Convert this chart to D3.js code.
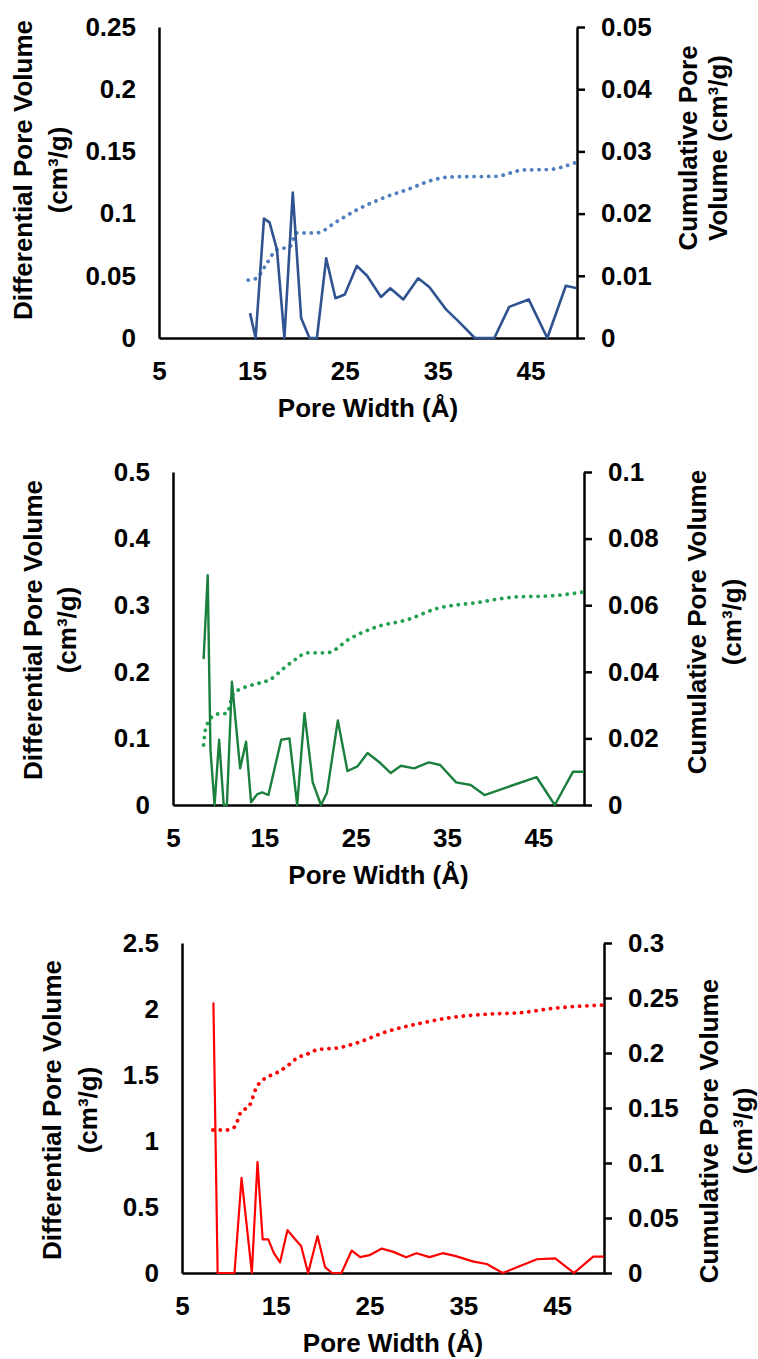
<!DOCTYPE html>
<html>
<head>
<meta charset="utf-8">
<script src="https://cdn.jsdelivr.net/npm/d3@7"></script>
<style>
  body { margin: 0; background: #fff; }
  svg text { font-family: Arial, "Liberation Sans", sans-serif; font-weight: bold; fill: #000; }
</style>
</head>
<body>
<div id="chart"></div>
<script>
/* Data: pore width (Å), differential and cumulative pore volume (cm3/g) */
const diffWidths1 = [14.8, 15.4, 16.3, 16.9, 17.7, 18.5, 19.4, 20.3, 21.2, 22.0, 23.0, 24.0, 25.0, 26.3, 27.4, 28.9, 29.9, 31.3, 32.9, 34.1, 35.9, 37.3, 39.0, 41.1, 42.7, 44.8, 46.8, 48.8, 50.0];
const diffVolume1 = [0.020, 0, 0.096, 0.093, 0.071, 0, 0.117, 0.016, 0, 0, 0.064, 0.032, 0.035, 0.058, 0.050, 0.033, 0.040, 0.031, 0.048, 0.041, 0.023, 0.013, 0, 0, 0.025, 0.031, 0, 0.042, 0.040];
const cumWidths1 = [14.6, 15.5, 16.4, 17.7, 19.1, 19.8, 22.0, 24.1, 26.3, 29.1, 31.6, 34.5, 36.3, 41.3, 44.2, 47.0, 50.0];
const cumVolume1 = [0.0093, 0.0096, 0.0115, 0.0142, 0.0147, 0.0169, 0.0169, 0.0187, 0.0206, 0.0225, 0.0238, 0.0254, 0.0259, 0.0260, 0.0270, 0.0271, 0.0283];

const diffWidths2 = [8.35, 8.8, 9.1, 9.55, 10.05, 10.55, 10.9, 11.45, 12.35, 13.0, 13.55, 14.2, 14.75, 15.45, 16.85, 17.75, 18.6, 19.4, 20.3, 21.2, 21.85, 23.05, 24.1, 25.2, 26.3, 27.7, 28.85, 29.95, 31.4, 33.0, 34.25, 36.0, 37.6, 39.1, 44.8, 46.8, 48.8, 50.0];
const diffVolume2 = [0.219, 0.345, 0.083, 0, 0.098, 0, 0, 0.185, 0.055, 0.095, 0.004, 0.016, 0.019, 0.015, 0.098, 0.100, 0, 0.138, 0.034, 0, 0.018, 0.127, 0.051, 0.058, 0.078, 0.063, 0.048, 0.059, 0.055, 0.064, 0.060, 0.034, 0.030, 0.015, 0.042, 0, 0.050, 0.050];
const cumWidths2 = [8.35, 8.55, 8.9, 9.8, 10.9, 11.6, 12.55, 14.55, 15.65, 17.1, 18.55, 19.65, 21.85, 24.4, 27.3, 30.6, 33.9, 38.3, 42.6, 46.3, 50.0];
const cumVolume2 = [0.018, 0.0227, 0.025, 0.0273, 0.0275, 0.0335, 0.035, 0.0367, 0.0377, 0.041, 0.044, 0.0457, 0.0457, 0.050, 0.0535, 0.0556, 0.059, 0.0608, 0.0625, 0.0628, 0.064];

const diffWidths3 = [8.35, 8.8, 10.6, 11.35, 12.45, 13.05, 13.6, 14.2, 14.8, 15.45, 16.25, 16.95, 17.7, 18.45, 19.45, 20.25, 21.0, 22.0, 23.1, 24.0, 25.0, 26.3, 27.55, 28.9, 30.0, 31.4, 32.8, 34.1, 36.1, 37.5, 39.2, 41.05, 42.85, 44.8, 46.8, 48.85, 50.0];
const diffVolume3 = [2.05, 0, 0, 0.72, 0, 0.84, 0.255, 0.255, 0.15, 0.08, 0.325, 0.265, 0.205, 0, 0.28, 0.045, 0, 0, 0.17, 0.12, 0.135, 0.185, 0.16, 0.12, 0.15, 0.12, 0.15, 0.13, 0.086, 0.068, 0, 0.053, 0.104, 0.111, 0, 0.124, 0.124];
const cumWidths3 = [8.3, 9.8, 10.65, 11.2, 12.25, 12.9, 13.7, 15.1, 16.2, 17.2, 18.65, 19.4, 21.85, 23.6, 26.5, 30.4, 33.9, 37.9, 41.05, 44.6, 50.0];
const cumVolume3 = [0.130, 0.130, 0.133, 0.145, 0.153, 0.168, 0.176, 0.182, 0.188, 0.195, 0.200, 0.203, 0.205, 0.209, 0.2185, 0.227, 0.2325, 0.2355, 0.2366, 0.2406, 0.2436];

/* Ticks and labels */
const xTicks = [5, 15, 25, 35, 45];
const leftTicks1 = [0, 0.05, 0.1, 0.15, 0.2, 0.25];
const rightTicks1 = [0, 0.01, 0.02, 0.03, 0.04, 0.05];
const leftTicks2 = [0, 0.1, 0.2, 0.3, 0.4, 0.5];
const rightTicks2 = [0, 0.02, 0.04, 0.06, 0.08, 0.1];
const leftTicks3 = [0, 0.5, 1, 1.5, 2, 2.5];
const rightTicks3 = [0, 0.05, 0.1, 0.15, 0.2, 0.25, 0.3];

const xTitle = 'Pore Width (Å)';
const leftTitle = ['Differential Pore Volume', '(cm³/g)'];
const rightTitleA = ['Cumulative Pore', 'Volume (cm³/g)'];
const rightTitleB = ['Cumulative Pore Volume', '(cm³/g)'];

/* Panels: layout + style */
let panels = [
  { left: 159, right: 577, top: 27, bottom: 338,
    dx: diffWidths1, dy: diffVolume1, cx: cumWidths1, cy: cumVolume1,
    lt: leftTicks1, rt: rightTicks1, rTitle: rightTitleA,
    solid: '#2f5290', dotted: '#4f7fbf', lw: 2.6,
    lTitleX: [23, 58], lTitleY: 170, rTitleX: [688, 718], rTitleY: 148 },
  { left: 173, right: 584, top: 472, bottom: 805,
    dx: diffWidths2, dy: diffVolume2, cx: cumWidths2, cy: cumVolume2,
    lt: leftTicks2, rt: rightTicks2, rTitle: rightTitleB,
    solid: '#1b7f3e', dotted: '#23a052', lw: 2.4,
    lTitleX: [33, 67], lTitleY: 630, rTitleX: [697, 732], rTitleY: 622 },
  { left: 182, right: 604, top: 943, bottom: 1273,
    dx: diffWidths3, dy: diffVolume3, cx: cumWidths3, cy: cumVolume3,
    lt: leftTicks3, rt: rightTicks3, rTitle: rightTitleB,
    solid: '#ff0000', dotted: '#ff0000', lw: 2.2,
    lTitleX: [52, 88], lTitleY: 1110, rTitleX: [709, 743], rTitleY: 1131 }
];

let svg = d3.select('#chart')
  .append('svg')
  .attr('width', 758)
  .attr('height', 1359);

panels.forEach(drawPanel);

function drawPanel(p) {
  let x = d3.scaleLinear().domain([5, 50]).range([p.left, p.right]);
  let yL = d3.scaleLinear().domain([p.lt[0], p.lt[p.lt.length - 1]]).range([p.bottom, p.top]);
  let yR = d3.scaleLinear().domain([p.rt[0], p.rt[p.rt.length - 1]]).range([p.bottom, p.top]);

  let g = svg.append('g');

  // axes
  let ax = g.append('g')
    .attr('transform', 'translate(0,' + p.bottom + ')')
    .call(d3.axisBottom(x).tickValues(xTicks).tickSize(0).tickSizeOuter(0).tickFormat(d3.format('d')));
  ax.selectAll('text').attr('y', 33).attr('dy', '0.35em');

  let al = g.append('g')
    .attr('transform', 'translate(' + p.left + ',0)')
    .call(d3.axisLeft(yL).tickValues(p.lt).tickSize(0).tickSizeOuter(0).tickPadding(23).tickFormat(d => String(d)));

  let ar = g.append('g')
    .attr('transform', 'translate(' + p.right + ',0)')
    .call(d3.axisRight(yR).tickValues(p.rt).tickSizeInner(8).tickSizeOuter(0).tickPadding(16).tickFormat(d => String(d)));

  [ax, al, ar].forEach(a => {
    a.select('.domain').attr('stroke', '#000').attr('stroke-width', 2.5);
    a.selectAll('line').attr('stroke', '#000').attr('stroke-width', 2.5);
    a.selectAll('text').style('font-size', '26px').attr('fill', '#000')
      .style('font-family', 'Arial, "Liberation Sans", sans-serif').style('font-weight', 'bold');
  });

  // cumulative (dotted)
  let cumLine = d3.line()
    .x((d, i) => x(p.cx[i]))
    .y(d => yR(d))
    .curve(d3.curveMonotoneX);
  g.append('path')
    .attr('d', cumLine(p.cy))
    .attr('fill', 'none')
    .attr('stroke', p.dotted)
    .attr('stroke-width', 3.8)
    .attr('stroke-linecap', 'round')
    .attr('stroke-dasharray', '0.1 7.2');

  // differential (solid)
  let diffLine = d3.line()
    .x((d, i) => x(p.dx[i]))
    .y(d => yL(d));
  g.append('path')
    .attr('d', diffLine(p.dy))
    .attr('fill', 'none')
    .attr('stroke', p.solid)
    .attr('stroke-width', p.lw)
    .attr('stroke-linejoin', 'round');

  // titles
  g.append('text')
    .attr('x', (p.left + p.right) / 2)
    .attr('y', p.bottom + 70)
    .attr('dy', '0.35em')
    .attr('text-anchor', 'middle')
    .style('font-size', '26px')
    .text(xTitle);

  leftTitle.forEach((t, i) => {
    g.append('text')
      .attr('transform', 'translate(' + p.lTitleX[i] + ',' + p.lTitleY + ') rotate(-90)')
      .attr('dy', '0.33em')
      .attr('text-anchor', 'middle')
      .style('font-size', '26px')
      .text(t);
  });

  p.rTitle.forEach((t, i) => {
    g.append('text')
      .attr('transform', 'translate(' + p.rTitleX[i] + ',' + p.rTitleY + ') rotate(-90)')
      .attr('dy', '0.33em')
      .attr('text-anchor', 'middle')
      .style('font-size', '26px')
      .text(t);
  });
}
</script>
</body>
</html>
